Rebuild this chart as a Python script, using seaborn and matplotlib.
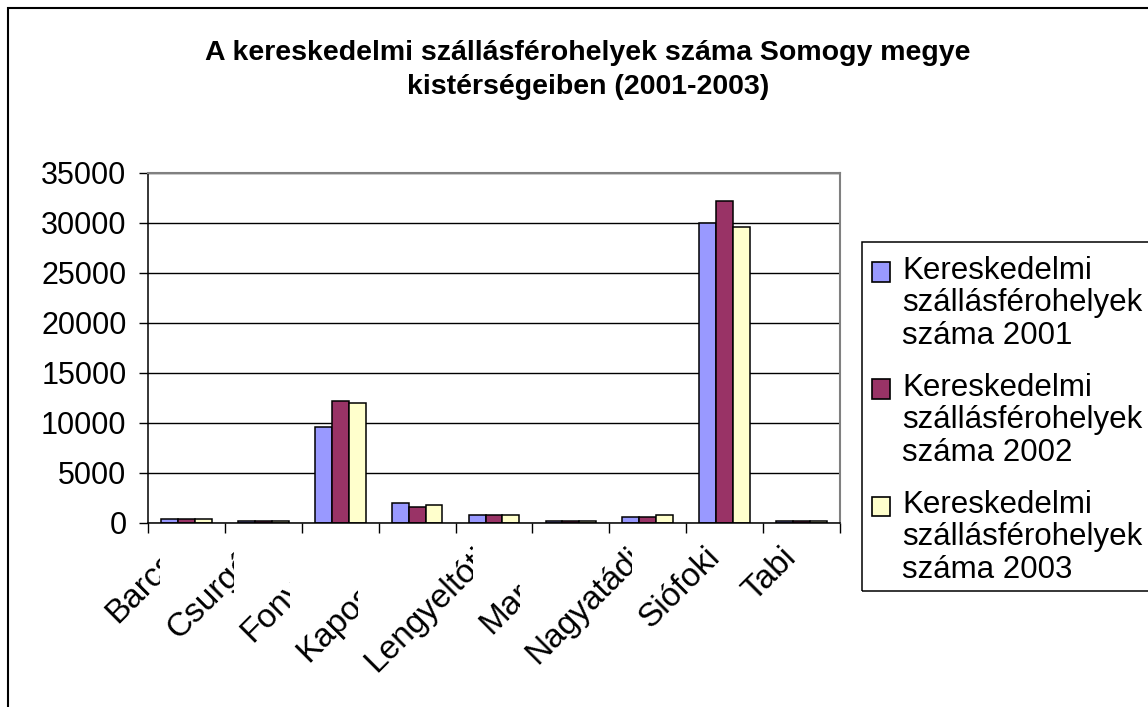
import matplotlib
matplotlib.use('Agg')
import matplotlib.pyplot as plt
import pandas as pd
import seaborn as sns
from matplotlib.patches import Rectangle, Patch
from matplotlib.transforms import IdentityTransform, ScaledTranslation
from matplotlib.legend_handler import HandlerPatch

# adatok (leolvasva az abrarol)
kistersegek = ['Barcsi', 'Csurgói', 'Fonyódi', 'Kaposvári', 'Lengyeltóti',
               'Marcali', 'Nagyatádi', 'Siófoki', 'Tabi']
ev_2001 = [350, 150, 9600, 2000, 800, 150, 600, 30000, 150]
ev_2002 = [350, 150, 12200, 1600, 800, 150, 600, 32200, 150]
ev_2003 = [350, 150, 12000, 1800, 800, 150, 800, 29600, 150]
sorozat_nevek = ['Kereskedelmi\nszállásférohelyek\nszáma 2001',
                 'Kereskedelmi\nszállásférohelyek\nszáma 2002',
                 'Kereskedelmi\nszállásférohelyek\nszáma 2003']
szinek = ['#9999FF', '#993366', '#FFFFCC']
y_tickek = [0, 5000, 10000, 15000, 20000, 25000, 30000, 35000]
cim = 'A kereskedelmi szállásférohelyek száma Somogy megye\nkistérségeiben (2001-2003)'

sns.set_style('white')
plt.rcParams['font.family'] = ['Liberation Sans', 'DejaVu Sans']
plt.rcParams['text.color'] = 'black'
plt.rcParams['xtick.color'] = 'black'
plt.rcParams['ytick.color'] = 'black'
plt.rcParams['axes.labelcolor'] = 'black'

df = pd.DataFrame({
    'kisterseg': kistersegek * 3,
    'sorozat': [sorozat_nevek[0]] * 9 + [sorozat_nevek[1]] * 9 + [sorozat_nevek[2]] * 9,
    'ertek': ev_2001 + ev_2002 + ev_2003,
})

W, H = 1148, 707
fx = lambda px: px / W
fy = lambda py: 1 - py / H
SORKOZ = 1.1  # jelmagyarazat sorkoze

fig = plt.figure(figsize=(W / 100, H / 100), dpi=100)
ax = fig.add_axes([fx(148), fy(522.7), fx(840) - fx(148), (522.7 - 172.7) / H])

sns.barplot(data=df, x='kisterseg', y='ertek', hue='sorozat', order=kistersegek,
            hue_order=sorozat_nevek, palette=szinek, saturation=1, width=0.66,
            edgecolor='black', linewidth=1.1, errorbar=None, legend=False, ax=ax)

ax.set_xlabel('')
ax.set_ylabel('')
ax.set_xlim(-0.5, len(kistersegek) - 0.5)
ax.set_ylim(0, 35000)
ax.set_yticks(y_tickek)
ax.set_yticklabels([str(v) for v in y_tickek])
ax.set_xticks([i - 0.5 for i in range(len(kistersegek) + 1)])
ax.set_xticklabels([''] * (len(kistersegek) + 1))
ax.yaxis.grid(True, color='black', linewidth=1.0)
ax.set_axisbelow(True)
ax.tick_params(axis='y', direction='out', length=6.5, width=1, color='black',
               labelsize=22, labelcolor='black', pad=9, left=True)
ax.tick_params(axis='x', direction='out', length=7, width=1, color='black', bottom=True)
for s in ['left', 'bottom']:
    ax.spines[s].set_color('black')
    ax.spines[s].set_linewidth(1.1)
for s in ['top', 'right']:
    ax.spines[s].set_color('#808080')
    ax.spines[s].set_linewidth(1.5)

# ferde kategoria feliratok, Excel-szeru feher hatterrel
off = ScaledTranslation(-10 / 100, -30 / 100, fig.dpi_scale_trans)
feliratok = []
for i, nev in enumerate(kistersegek):
    t = ax.text(i, 0, nev, transform=ax.get_xaxis_transform() + off, rotation=45,
                ha='right', va='center', rotation_mode='anchor', fontsize=24,
                color='black', zorder=11 + 2 * i, clip_on=False)
    feliratok.append(t)

fig.text(fx(588), fy(40), cim, ha='center', va='top', fontsize=20.5,
         fontweight='bold', linespacing=1.42, color='black')


class FelsoNegyzet(HandlerPatch):
    def create_artists(self, legend, orig_handle, xdescent, ydescent, width,
                       height, fontsize, trans):
        emel = fontsize * (0.73 * SORKOZ + 0.21)
        p = Rectangle((-xdescent, -ydescent + emel), width, height,
                      facecolor=orig_handle.get_facecolor(), edgecolor='black', lw=1.2)
        p.set_transform(trans)
        return [p]


kezelok = [Patch(facecolor=c, edgecolor='black') for c in szinek]
leg = fig.legend(kezelok, sorozat_nevek, loc='upper left',
                 bbox_to_anchor=(fx(872), fy(256)), frameon=False, borderpad=0,
                 borderaxespad=0, fontsize=22.5, handlelength=0.58, handleheight=0.58,
                 handletextpad=0.38, labelspacing=0.72,
                 handler_map={Patch: FelsoNegyzet()})
for t in leg.get_texts():
    t.set_linespacing(SORKOZ)
    t.set_color('black')

fig.canvas.draw()
for i, t in enumerate(feliratok):
    bb = t.get_window_extent()
    ax.add_artist(Rectangle((bb.x0 - 1, bb.y0 - 2), bb.width + 2, bb.height + 4,
                            transform=IdentityTransform(), facecolor='white',
                            edgecolor='none', zorder=10 + 2 * i, clip_on=False))

lb = leg.get_window_extent()
fig.add_artist(Rectangle((lb.x0 - 10, lb.y0 - 6), W + 50 - lb.x0, lb.height + 20,
                         transform=IdentityTransform(), fill=False,
                         edgecolor='black', lw=1.1))
# a teljes diagram kerete
fig.add_artist(Rectangle((8, -20), W + 50, H - 8 + 20, transform=IdentityTransform(),
                         fill=False, edgecolor='black', lw=1.5))

fig.savefig('out.png', dpi=100)
